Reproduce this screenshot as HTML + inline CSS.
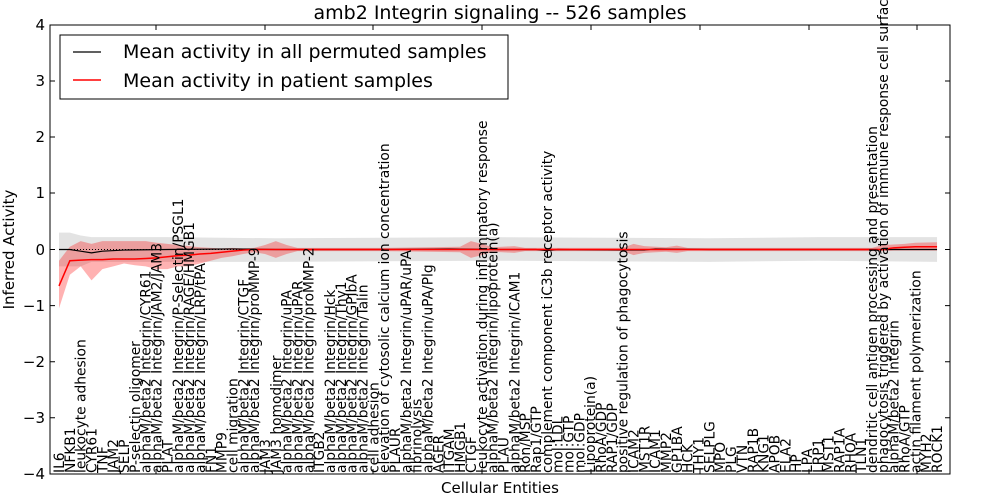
<!DOCTYPE html>
<html><head><meta charset="utf-8"><style>
html,body{margin:0;padding:0;background:#fff;width:1000px;height:500px;overflow:hidden}
svg{display:block;font-family:"DejaVu Sans","Liberation Sans",sans-serif}
.lab{font-size:13.8px;fill:#000}
</style></head><body>
<svg width="1000" height="500" viewBox="0 0 1000 500">
<rect width="1000" height="500" fill="#fff"/>
<text x="500" y="19" text-anchor="middle" font-size="19">amb2 Integrin signaling -- 526 samples</text>
<g transform="translate(59,249.5) scale(10.84,-56.1)">
<polygon fill="#d9d9d9" fill-opacity="0.75" points="0,0.3 1,0.3 2,0.25 3,0.22 10,0.22 20,0.2 40,0.22 60,0.2 70,0.22 81,0.22 81,-0.22 70,-0.2 60,-0.22 40,-0.2 20,-0.22 10,-0.22 3,-0.22 2,-0.3 1,-0.3 0,-0.3"/>
<polygon fill="#ff0000" fill-opacity="0.3" points="0,-0.2 1,0.05 2,0.15 3,0.1 4,0.15 5,0.15 6,0.15 7,0.15 8,0.15 9,0.12 10,0.1 11,0.08 12,0.06 13,0.04 14,0.03 15,0.02 16,0.03 17,0.02 18,0.03 19,0.08 20,0.15 21,0.08 22,0.03 30,0.03 37,0.05 38,0.15 39,0.1 40,0.04 42,0.06 43,0.03 52,0.03 53,0.1 54,0.06 56,0.04 57,0.07 58,0.03 75,0.03 76,0.08 78,0.1 79,0.12 81,0.13 81,-0.02 79,-0.02 77,-0.02 76,-0.03 75,-0.03 58,-0.03 57,-0.06 56,-0.04 54,-0.06 53,-0.1 52,-0.03 43,-0.03 42,-0.06 40,-0.04 39,-0.1 38,-0.15 37,-0.05 30,-0.03 22,-0.03 21,-0.08 20,-0.15 19,-0.08 18,-0.05 17,-0.08 16,-0.12 15,-0.15 14,-0.2 13,-0.25 12,-0.3 11,-0.3 10,-0.35 9,-0.35 8,-0.3 7,-0.28 6,-0.25 5,-0.3 4,-0.35 3,-0.55 2,-0.3 1,-0.45 0,-1.05"/>
<line x1="0" y1="0" x2="81" y2="0" stroke="#000" stroke-width="1" stroke-dasharray="1,2" vector-effect="non-scaling-stroke"/>
<polyline fill="none" stroke="#000" stroke-width="1.2" vector-effect="non-scaling-stroke" points="0,0 1,0 2,-0.03 3,-0.06 4,-0.03 6,-0.01 10,0 16,0.01 20,0 30,0 36,0.01 40,0 44,0 45,-0.02 46,0 52,-0.01 54,-0.01 55,0.01 60,0 81,0"/>
<polyline fill="none" stroke="#ff0000" stroke-width="1.5" vector-effect="non-scaling-stroke" points="0,-0.65 1,-0.2 2,-0.19 3,-0.18 4,-0.18 5,-0.17 6,-0.17 7,-0.17 8,-0.16 9,-0.15 10,-0.13 11,-0.11 12,-0.1 13,-0.08 14,-0.07 15,-0.05 16,-0.03 17,-0.01 18,0 76,0 77,0.03 78,0.04 79,0.05 81,0.05"/>
</g>
<rect x="50" y="25" width="900" height="449" fill="none" stroke="#000" stroke-width="1"/>
<g stroke="#000" stroke-width="1">
<path d="M50 25h5M50 81h5M50 137h5M50 193h5M50 249.5h5M50 305.6h5M50 361.7h5M50 417.8h5M50 474h5"/>
<path d="M950 25h-5M950 81h-5M950 137h-5M950 193h-5M950 249.5h-5M950 305.6h-5M950 361.7h-5M950 417.8h-5M950 474h-5"/>
<path d="M156 25v5M265 25v5M373 25v5M482 25v5M591 25v5M700 25v5M809 25v5M917 25v5M156 474v-5M265 474v-5M373 474v-5M482 474v-5M591 474v-5M700 474v-5M809 474v-5M917 474v-5"/>
</g>
<g font-size="15" text-anchor="end">
<text x="45" y="30">4</text><text x="45" y="86">3</text><text x="45" y="142">2</text><text x="45" y="198">1</text><text x="45" y="255">0</text><text x="45" y="311">−1</text><text x="45" y="367">−2</text><text x="45" y="423">−3</text><text x="45" y="479">−4</text>
</g>
<text transform="translate(14,249.5) rotate(-90)" text-anchor="middle" font-size="15">Inferred Activity</text>
<text x="500" y="493" text-anchor="middle" font-size="15">Cellular Entities</text>
<rect x="60" y="35" width="448" height="64" fill="#fff" stroke="#000" stroke-width="1"/>
<line x1="73" y1="52" x2="101" y2="52" stroke="#000" stroke-width="1.2"/>
<line x1="73" y1="80" x2="101" y2="80" stroke="#ff0000" stroke-width="1.5"/>
<text x="123" y="58" font-size="19">Mean activity in all permuted samples</text>
<text x="123" y="87" font-size="19">Mean activity in patient samples</text>
<g class="lab">
<text transform="translate(64,473) rotate(-90)">IL6</text>
<text transform="translate(74.8,473) rotate(-90)">NFKB1</text>
<text transform="translate(85.7,473) rotate(-90)">leukocyte adhesion</text>
<text transform="translate(96.5,473) rotate(-90)">CYR61</text>
<text transform="translate(107.4,473) rotate(-90)">TNF</text>
<text transform="translate(118.2,473) rotate(-90)">JAM2</text>
<text transform="translate(129,473) rotate(-90)">SELP</text>
<text transform="translate(139.9,473) rotate(-90)">P-selectin oligomer</text>
<text transform="translate(150.7,473) rotate(-90)">alphaM/beta2 Integrin/CYR61</text>
<text transform="translate(161.6,473) rotate(-90)">alphaM/beta2 Integrin/JAM2/JAM3</text>
<text transform="translate(172.4,473) rotate(-90)">PLAT</text>
<text transform="translate(183.2,473) rotate(-90)">alphaM/beta2 Integrin/P-Selectin/PSGL1</text>
<text transform="translate(194.1,473) rotate(-90)">alphaM/beta2 Integrin/RAGE/HMGB1</text>
<text transform="translate(204.9,473) rotate(-90)">alphaM/beta2 Integrin/LRP/tPA</text>
<text transform="translate(215.8,473) rotate(-90)">FN1</text>
<text transform="translate(226.6,473) rotate(-90)">MMP9</text>
<text transform="translate(237.4,473) rotate(-90)">cell migration</text>
<text transform="translate(248.3,473) rotate(-90)">alphaM/beta2 Integrin/CTGF</text>
<text transform="translate(259.1,473) rotate(-90)">alphaM/beta2 Integrin/proMMP-9</text>
<text transform="translate(270,473) rotate(-90)">JAM3</text>
<text transform="translate(280.8,473) rotate(-90)">JAM3 homodimer</text>
<text transform="translate(291.6,473) rotate(-90)">alphaM/beta2 Integrin/uPA</text>
<text transform="translate(302.5,473) rotate(-90)">alphaM/beta2 Integrin/uPAR</text>
<text transform="translate(313.3,473) rotate(-90)">alphaM/beta2 Integrin/proMMP-2</text>
<text transform="translate(324.2,473) rotate(-90)">ITGB2</text>
<text transform="translate(335,473) rotate(-90)">alphaM/beta2 Integrin/Hck</text>
<text transform="translate(345.8,473) rotate(-90)">alphaM/beta2 Integrin/Thy1</text>
<text transform="translate(356.7,473) rotate(-90)">alphaM/beta2 Integrin/GPIbA</text>
<text transform="translate(367.5,473) rotate(-90)">alphaM/beta2 Integrin/Talin</text>
<text transform="translate(378.4,473) rotate(-90)">cell adhesion</text>
<text transform="translate(389.2,473) rotate(-90)">elevation of cytosolic calcium ion concentration</text>
<text transform="translate(400,473) rotate(-90)">PLAUR</text>
<text transform="translate(410.9,473) rotate(-90)">alphaM/beta2 Integrin/uPAR/uPA</text>
<text transform="translate(421.7,473) rotate(-90)">fibrinolysis</text>
<text transform="translate(432.6,473) rotate(-90)">alphaM/beta2 Integrin/uPA/Plg</text>
<text transform="translate(443.4,473) rotate(-90)">AGER</text>
<text transform="translate(454.2,473) rotate(-90)">ITGAM</text>
<text transform="translate(465.1,473) rotate(-90)">HMGB1</text>
<text transform="translate(475.9,473) rotate(-90)">CTGF</text>
<text transform="translate(486.8,473) rotate(-90)">leukocyte activation during inflammatory response</text>
<text transform="translate(497.6,473) rotate(-90)">alphaM/beta2 Integrin/lipoprotein(a)</text>
<text transform="translate(508.4,473) rotate(-90)">PLAU</text>
<text transform="translate(519.3,473) rotate(-90)">alphaM/beta2 Integrin/ICAM1</text>
<text transform="translate(530.1,473) rotate(-90)">Ron/MSP</text>
<text transform="translate(541,473) rotate(-90)">Rap1/GTP</text>
<text transform="translate(551.8,473) rotate(-90)">complement component iC3b receptor activity</text>
<text transform="translate(562.6,473) rotate(-90)">mol:LDL</text>
<text transform="translate(573.5,473) rotate(-90)">mol:GTP</text>
<text transform="translate(584.3,473) rotate(-90)">mol:GDP</text>
<text transform="translate(595.2,473) rotate(-90)">Lipoprotein(a)</text>
<text transform="translate(606,473) rotate(-90)">RhoA/GDP</text>
<text transform="translate(616.8,473) rotate(-90)">RAP1/GDP</text>
<text transform="translate(627.7,473) rotate(-90)">positive regulation of phagocytosis</text>
<text transform="translate(638.5,473) rotate(-90)">ICAM2</text>
<text transform="translate(649.4,473) rotate(-90)">MST1R</text>
<text transform="translate(660.2,473) rotate(-90)">ICAM1</text>
<text transform="translate(671,473) rotate(-90)">MMP2</text>
<text transform="translate(681.9,473) rotate(-90)">GP1BA</text>
<text transform="translate(692.7,473) rotate(-90)">HCK</text>
<text transform="translate(703.6,473) rotate(-90)">THY1</text>
<text transform="translate(714.4,473) rotate(-90)">SELPLG</text>
<text transform="translate(725.2,473) rotate(-90)">MPO</text>
<text transform="translate(736.1,473) rotate(-90)">PLG</text>
<text transform="translate(746.9,473) rotate(-90)">VTN</text>
<text transform="translate(757.8,473) rotate(-90)">RAP1B</text>
<text transform="translate(768.6,473) rotate(-90)">KNG1</text>
<text transform="translate(779.4,473) rotate(-90)">APOB</text>
<text transform="translate(790.3,473) rotate(-90)">ELA2</text>
<text transform="translate(801.1,473) rotate(-90)">HP</text>
<text transform="translate(812,473) rotate(-90)">LPA</text>
<text transform="translate(822.8,473) rotate(-90)">LRP1</text>
<text transform="translate(833.6,473) rotate(-90)">MST1</text>
<text transform="translate(844.5,473) rotate(-90)">RAP1A</text>
<text transform="translate(855.3,473) rotate(-90)">RHOA</text>
<text transform="translate(866.2,473) rotate(-90)">TLN1</text>
<text transform="translate(877,473) rotate(-90)">dendritic cell antigen processing and presentation</text>
<text transform="translate(887.8,473) rotate(-90)">phagocytosis triggered by activation of immune response cell surface activity</text>
<text transform="translate(898.7,473) rotate(-90)">alphaM/beta2 Integrin</text>
<text transform="translate(909.5,473) rotate(-90)">RhoA/GTP</text>
<text transform="translate(920.4,473) rotate(-90)">actin filament polymerization</text>
<text transform="translate(931.2,473) rotate(-90)">MYH2</text>
<text transform="translate(942,473) rotate(-90)">ROCK1</text>
</g>
</svg>
</body></html>
